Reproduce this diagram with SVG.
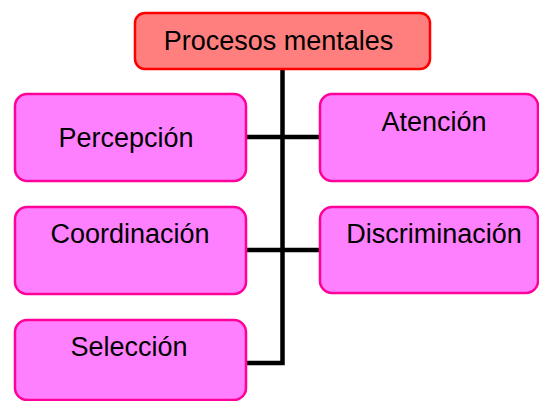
<svg xmlns="http://www.w3.org/2000/svg" width="539" height="401" viewBox="0 0 539 401">
<style>
.root{fill:#FF7F7F;stroke:#FF0000;stroke-width:2.5}
.box{fill:#FF80FF;stroke:#FF0099;stroke-width:2.5}
.t{font-family:"Liberation Sans",Arial,sans-serif;font-size:27px;fill:#000;text-anchor:middle}
.c{fill:none;stroke:#000;stroke-width:4.5}
</style>
<rect width="539" height="401" fill="#fff"/>
<g id="connectors">
<path class="c" d="M282.5,69 V363 H246"/>
<path class="c" d="M246,137 H320"/>
<path class="c" d="M246,250 H320"/>
</g>
<g id="procesos">
<rect class="root" x="135" y="13" width="295" height="56" rx="10"/>
<text class="t" x="278.5" y="50">Procesos mentales</text>
</g>
<g id="percepcion">
<rect class="box" x="15" y="94" width="231" height="87" rx="12"/>
<text class="t" x="126" y="147">Percepción</text>
</g>
<g id="atencion">
<rect class="box" x="320" y="94" width="218" height="87" rx="12"/>
<text class="t" x="434" y="131">Atención</text>
</g>
<g id="coordinacion">
<rect class="box" x="15" y="207" width="231" height="87" rx="12"/>
<text class="t" x="130" y="243">Coordinación</text>
</g>
<g id="discriminacion">
<rect class="box" x="320" y="207" width="218" height="86" rx="12"/>
<text class="t" x="434" y="243">Discriminación</text>
</g>
<g id="seleccion">
<rect class="box" x="15" y="320" width="231" height="80" rx="12"/>
<text class="t" x="129" y="356">Selección</text>
</g>
</svg>
